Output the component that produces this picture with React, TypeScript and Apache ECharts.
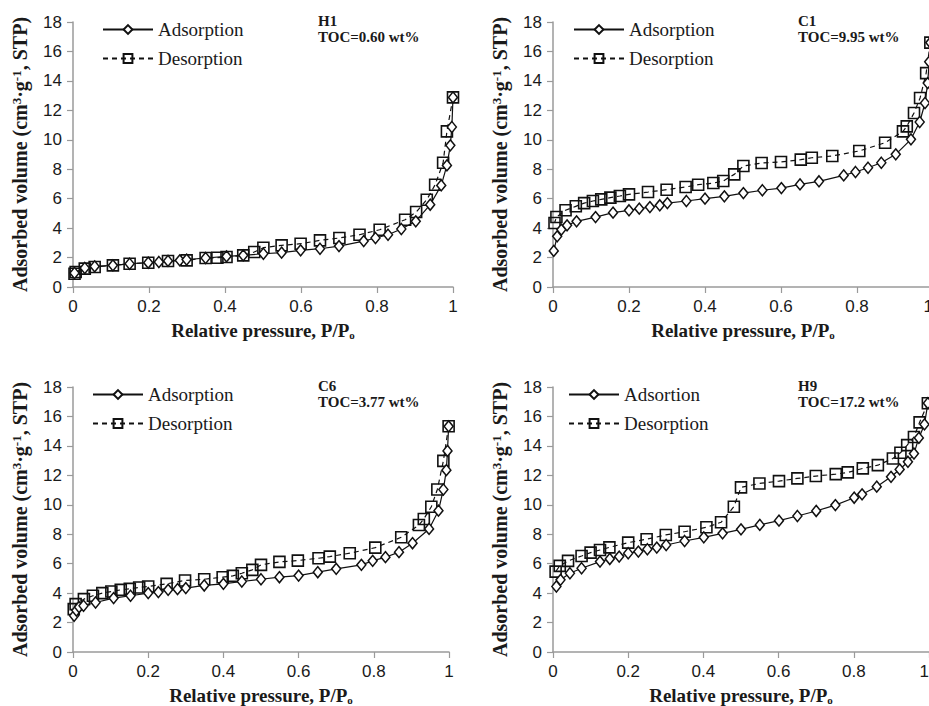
import React, { useEffect, useRef } from "react";
import * as echarts from "echarts";

// ---- Data (relative pressure P/Po, adsorbed volume cm3/g STP) ----
const h1Adsorption = [
  [0.004, 0.95], [0.031, 1.29], [0.057, 1.4], [0.105, 1.47], [0.149, 1.58], [0.198, 1.65],
  [0.226, 1.7], [0.25, 1.77], [0.281, 1.81], [0.299, 1.86], [0.349, 1.97], [0.404, 2.08],
  [0.448, 2.15], [0.501, 2.26], [0.549, 2.33], [0.599, 2.49], [0.65, 2.6], [0.7, 2.78],
  [0.765, 3.12], [0.796, 3.33], [0.829, 3.55], [0.864, 3.94], [0.902, 4.46], [0.94, 5.59],
  [0.969, 6.9], [0.984, 8.26], [0.993, 9.62], [0.997, 10.87], [1.0, 12.88],
];
const h1Desorption = [
  [1.0, 12.88], [0.984, 10.57], [0.974, 8.44], [0.953, 6.95], [0.931, 5.93], [0.903, 5.09],
  [0.874, 4.57], [0.807, 3.89], [0.754, 3.55], [0.701, 3.33], [0.65, 3.17], [0.599, 2.94],
  [0.549, 2.83], [0.501, 2.67], [0.477, 2.38], [0.448, 2.15], [0.404, 2.04], [0.38, 1.99],
  [0.349, 1.97], [0.299, 1.81], [0.25, 1.77], [0.198, 1.65], [0.149, 1.58], [0.105, 1.47],
  [0.057, 1.36], [0.031, 1.25], [0.007, 1.02], [0.004, 0.9],
];
const c1Adsorption = [
  [0.002, 2.45], [0.011, 3.44], [0.022, 3.9], [0.037, 4.19], [0.062, 4.46], [0.112, 4.75],
  [0.158, 5.05], [0.2, 5.21], [0.227, 5.32], [0.255, 5.43], [0.281, 5.55], [0.301, 5.7],
  [0.351, 5.84], [0.4, 6.0], [0.451, 6.16], [0.501, 6.38], [0.551, 6.57], [0.601, 6.72],
  [0.65, 6.97], [0.7, 7.18], [0.765, 7.58], [0.796, 7.81], [0.829, 8.1], [0.864, 8.44],
  [0.902, 9.01], [0.942, 10.03], [0.965, 11.21], [0.979, 12.5], [0.986, 13.85], [0.99, 15.3],
  [0.993, 16.6],
];
const c1Desorption = [
  [0.993, 16.6], [0.982, 14.53], [0.966, 12.84], [0.95, 11.82], [0.931, 10.91], [0.921, 10.57],
  [0.874, 9.8], [0.806, 9.24], [0.735, 8.9], [0.681, 8.78], [0.652, 8.65], [0.6, 8.49],
  [0.549, 8.42], [0.501, 8.22], [0.477, 7.65], [0.448, 7.2], [0.422, 7.06], [0.382, 6.95],
  [0.349, 6.79], [0.299, 6.61], [0.25, 6.45], [0.2, 6.29], [0.176, 6.18], [0.151, 6.07],
  [0.127, 5.95], [0.105, 5.84], [0.082, 5.7], [0.06, 5.48], [0.033, 5.21], [0.009, 4.75],
  [0.004, 4.35],
];
const c6Adsorption = [
  [0.003, 2.46], [0.009, 2.82], [0.016, 3.05], [0.028, 3.14], [0.06, 3.36], [0.108, 3.66],
  [0.153, 3.82], [0.2, 4.0], [0.227, 4.07], [0.253, 4.22], [0.278, 4.27], [0.3, 4.34],
  [0.349, 4.52], [0.4, 4.63], [0.449, 4.79], [0.5, 4.94], [0.549, 5.08], [0.6, 5.19],
  [0.651, 5.42], [0.7, 5.65], [0.767, 5.92], [0.797, 6.19], [0.831, 6.44], [0.867, 6.78],
  [0.903, 7.39], [0.947, 8.36], [0.972, 9.6], [0.985, 11.04], [0.993, 12.35], [0.996, 13.66],
  [0.999, 15.33],
];
const c6Desorption = [
  [0.999, 15.33], [0.985, 12.98], [0.969, 11.04], [0.953, 9.87], [0.933, 9.03], [0.92, 8.63],
  [0.873, 7.79], [0.804, 7.09], [0.736, 6.71], [0.683, 6.48], [0.653, 6.37], [0.598, 6.21],
  [0.549, 6.12], [0.5, 5.92], [0.477, 5.58], [0.449, 5.35], [0.425, 5.17], [0.398, 5.08],
  [0.349, 4.94], [0.298, 4.86], [0.249, 4.63], [0.2, 4.45], [0.176, 4.38], [0.151, 4.29],
  [0.127, 4.22], [0.102, 4.11], [0.078, 4.0], [0.053, 3.82], [0.029, 3.59], [0.007, 3.25],
  [0.002, 2.91],
];
const h9Adsorption = [
  [0.009, 4.45], [0.02, 4.9], [0.045, 5.35], [0.076, 5.69], [0.125, 6.14], [0.151, 6.32],
  [0.176, 6.48], [0.2, 6.71], [0.227, 6.82], [0.251, 6.98], [0.276, 7.09], [0.301, 7.27],
  [0.35, 7.54], [0.401, 7.79], [0.451, 8.06], [0.5, 8.33], [0.55, 8.63], [0.601, 8.92],
  [0.65, 9.24], [0.7, 9.58], [0.751, 9.98], [0.801, 10.48], [0.822, 10.71], [0.861, 11.23],
  [0.899, 11.9], [0.922, 12.4], [0.944, 12.92], [0.96, 13.48], [0.973, 14.54], [0.988, 15.46],
  [0.997, 16.9],
];
const h9Desorption = [
  [0.997, 16.9], [0.975, 15.6], [0.96, 14.6], [0.942, 14.05], [0.924, 13.53], [0.904, 13.14],
  [0.864, 12.69], [0.824, 12.47], [0.784, 12.2], [0.752, 12.08], [0.699, 11.95], [0.65, 11.79],
  [0.601, 11.61], [0.549, 11.45], [0.5, 11.18], [0.481, 9.87], [0.447, 8.81], [0.408, 8.47],
  [0.35, 8.17], [0.3, 7.95], [0.249, 7.66], [0.2, 7.43], [0.15, 7.11], [0.125, 6.93],
  [0.1, 6.75], [0.076, 6.52], [0.04, 6.19], [0.018, 5.85], [0.007, 5.46],
];

const sampleNames = ["H1", "C1", "C6", "H9"];
const tocLabels = ["TOC=0.60 wt%", "TOC=9.95 wt%", "TOC=3.77 wt%", "TOC=17.2 wt%"];
const adsorptionNames = ["Adsorption", "Adsorption", "Adsorption", "Adsortion"];
const desorptionName = "Desorption";
const adsorptionSets = [h1Adsorption, c1Adsorption, c6Adsorption, h9Adsorption];
const desorptionSets = [h1Desorption, c1Desorption, c6Desorption, h9Desorption];

const SERIF = '"Liberation Serif", "Times New Roman", serif';
const SANS = '"Liberation Sans", Arial, sans-serif';

const grids = [
  { left: 73, top: 22, width: 380, height: 265 },
  { left: 553, top: 22, width: 380, height: 265 },
  { left: 73, top: 387, width: 376, height: 265 },
  { left: 553, top: 387, width: 376, height: 265 },
];
const rightAlignLastLabel = [false, true, false, true];
const legendPos = [
  { left: 102, top: 20 },
  { left: 573, top: 20 },
  { left: 92, top: 385 },
  { left: 568, top: 385 },
];

export default function App() {
  const ref = useRef<HTMLDivElement>(null);
  useEffect(() => {
    if (!ref.current) return;
    const chart = echarts.init(ref.current, null, { renderer: "svg" });
    const axisColor = "#9a9a9a";
    const xAxes = grids.map((_, i) => ({
      type: "value",
      gridIndex: i,
      min: 0,
      max: 1,
      interval: 0.2,
      splitLine: { show: false },
      axisLine: { show: true, lineStyle: { color: axisColor, width: 1.5 } },
      axisTick: { show: true, length: 6, lineStyle: { color: axisColor, width: 1.2 } },
      axisLabel: {
        color: "#1a1a1a",
        fontFamily: SANS,
        fontSize: 17,
        margin: 11,
        ...(rightAlignLastLabel[i] ? { alignMaxLabel: "right" } : {}),
      },
      name: "Relative pressure, P/P{sub|o}",
      nameLocation: "middle",
      nameGap: 34,
      nameTextStyle: {
        fontFamily: SERIF,
        fontWeight: "bold",
        fontSize: 19,
        color: "#1a1a1a",
        rich: {
          sub: { fontFamily: SERIF, fontWeight: "bold", fontSize: 11, lineHeight: 11, padding: [8, 0, 0, 0], verticalAlign: "top" },
        },
      },
    }));
    const yAxes = grids.map((_, i) => ({
      type: "value",
      gridIndex: i,
      min: 0,
      max: 18,
      interval: 2,
      splitLine: { show: false },
      axisLine: { show: true, lineStyle: { color: axisColor, width: 1.5 } },
      axisTick: { show: true, length: 6, lineStyle: { color: axisColor, width: 1.2 } },
      axisLabel: { color: "#1a1a1a", fontFamily: SANS, fontSize: 17, margin: 11 },
      name: "Adsorbed volume (cm{sup|3}·g{sup|-1}, STP)",
      nameLocation: "middle",
      nameRotate: 90,
      nameGap: 43,
      nameTextStyle: {
        fontFamily: SERIF,
        fontWeight: "bold",
        fontSize: 20,
        color: "#1a1a1a",
        rich: {
          sup: { fontFamily: SERIF, fontWeight: "bold", fontSize: 13, lineHeight: 13, padding: [0, 0, 10, 0], verticalAlign: "top" },
        },
      },
    }));
    const series: any[] = [];
    grids.forEach((_, i) => {
      series.push({
        type: "line",
        name: desorptionName,
        xAxisIndex: i,
        yAxisIndex: i,
        data: desorptionSets[i],
        symbol: "rect",
        symbolSize: 11,
        clip: false,
        lineStyle: { color: "#111", width: 1.2, type: [5, 4] },
        itemStyle: { color: "rgba(255,255,255,0)", borderColor: "#111", borderWidth: 1.6 },
        z: 2,
      });
      series.push({
        type: "line",
        name: adsorptionNames[i],
        xAxisIndex: i,
        yAxisIndex: i,
        data: adsorptionSets[i],
        symbol: "diamond",
        symbolSize: [9, 11],
        clip: false,
        lineStyle: { color: "#111", width: 1.2 },
        itemStyle: { color: "#fff", borderColor: "#111", borderWidth: 1.5 },
        z: 3,
      });
    });
    const legends = grids.map((_, i) => ({
      left: legendPos[i].left,
      top: legendPos[i].top,
      padding: 0,
      orient: "vertical",
      itemWidth: 50,
      itemHeight: 11,
      itemGap: 10,
      selectedMode: false,
      data: [adsorptionNames[i], desorptionName],
      textStyle: { fontFamily: SERIF, fontSize: 19, color: "#1a1a1a" },
    }));
    const graphics = grids.map((g, i) => ({
      type: "text",
      left: g.left + 245,
      top: g.top - 9,
      style: {
        text: sampleNames[i] + "\n" + tocLabels[i],
        font: "bold 15px " + SERIF,
        lineHeight: 16,
        fill: "#1a1a1a",
      },
    }));
    chart.setOption({
      animation: false,
      backgroundColor: "#fff",
      grid: grids.map((g) => ({ ...g, containLabel: false, outerBoundsMode: "none" })),
      xAxis: xAxes,
      yAxis: yAxes,
      legend: legends,
      series,
      graphic: graphics,
    });
    return () => chart.dispose();
  }, []);
  return (
    <div
      ref={ref}
      style={{ position: "fixed", left: 0, top: 0, width: 929, height: 706, background: "#fff" }}
    />
  );
}
